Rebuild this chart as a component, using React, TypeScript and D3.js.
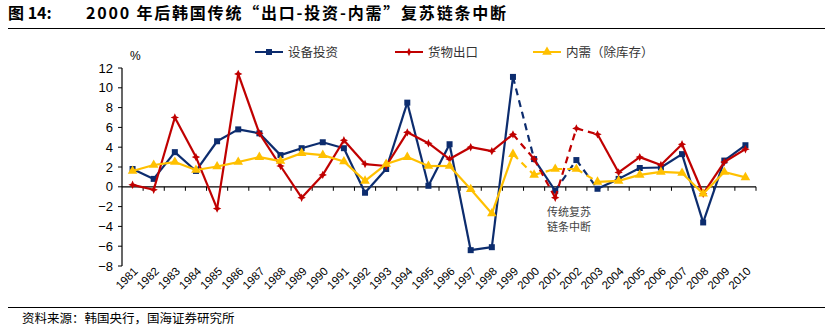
import React from "react";
import * as d3 from "d3";

const years = d3.range(1981, 2011).map(String);
const equipInvest = [1.8, 0.8, 3.5, 1.6, 4.6, 5.8, 5.4, 3.2, 3.9, 4.5, 3.9, -0.6, 1.8, 8.5, 0.1, 4.3, -6.4, -6.1, 11.1, 2.8, -0.4, 2.7, -0.2, 0.8, 1.9, 1.95, 3.3, -3.6, 2.65, 4.2];
const goodsExport = [0.2, -0.3, 7.0, 3.0, -2.2, 11.4, 5.4, 2.1, -1.1, 1.2, 4.7, 2.3, 2.1, 5.5, 4.4, 2.8, 4.0, 3.6, 5.3, 2.8, -1.1, 5.9, 5.3, 1.45, 3.0, 2.2, 4.3, -0.7, 2.5, 3.8];
const domesticDemand = [1.6, 2.2, 2.5, 1.7, 2.05, 2.5, 3.0, 2.6, 3.4, 3.2, 2.55, 0.6, 2.3, 3.0, 2.1, 2.1, -0.25, -2.7, 3.3, 1.2, 1.8, 1.8, 0.5, 0.6, 1.2, 1.5, 1.4, -0.7, 1.5, 0.95];
const yTicks = [12, 10, 8, 6, 4, 2, 0, -2, -4, -6, -8];
const dashedEquip = ["1999", "2001", "2002"];
const dashedExport = ["1999", "2000", "2001", "2002"];
const dashedDemand = ["1999", "2000", "2001", "2002"];

const seriesList = [
  { name: "设备投资", values: equipInvest, color: "#0C2C6E", marker: "square", dashed: dashedEquip },
  { name: "货物出口", values: goodsExport, color: "#C00000", marker: "star", dashed: dashedExport },
  { name: "内需（除库存）", values: domesticDemand, color: "#FFC000", marker: "triangle", dashed: dashedDemand },
];

const W = 825, H = 328;
const left = 122, right = 756, top = 68, bottom = 266;

function starPath(ro: number, ri: number) {
  const pts: string[] = [];
  for (let k = 0; k < 8; k++) {
    const a = (Math.PI / 4) * k - Math.PI / 2;
    const r = k % 2 === 0 ? ro : ri;
    pts.push(`${(r * Math.cos(a)).toFixed(2)},${(r * Math.sin(a)).toFixed(2)}`);
  }
  return "M" + pts.join("L") + "Z";
}

export default function App() {
  const x = d3.scaleBand().domain(years).range([left, right]);
  const y = d3.scaleLinear().domain([-8, 12]).range([bottom, top]);
  const cx = (yr: string) => (x(yr) as number) + x.bandwidth() / 2;
  const line = d3.line<[number, number]>();

  const sym = (m: string) => {
    if (m === "square") return d3.symbol(d3.symbolSquare, 36)() as string;
    if (m === "triangle") return d3.symbol(d3.symbolTriangle, 40)() as string;
    return starPath(4.2, 1.9);
  };

  const font = "'Liberation Sans', Arial, sans-serif";
  const cjk = "'Noto Sans CJK SC', sans-serif";

  return (
    <svg width={W} height={H} style={{ position: "absolute", left: 0, top: 0, background: "#fff" }}>
      {/* Title */}
      <text x={8} y={19} fontFamily={cjk} fontWeight="bold" fontSize={16} fill="#000">图 14:</text>
      <text x={86} y={19} fontFamily={cjk} fontWeight="bold" fontSize={16} letterSpacing={1.8} fill="#000">
        2000 年后韩国传统“出口-投资-内需”复苏链条中断
      </text>
      <line x1={8} x2={825} y1={28.5} y2={28.5} stroke="#000" strokeWidth={1.2} />

      {/* Legend */}
      {seriesList.map((s, i) => {
        const lx = [255, 395, 533][i];
        return (
          <g key={s.name}>
            <line x1={lx} x2={lx + 28} y1={52} y2={52} stroke={s.color} strokeWidth={2} />
            <path d={sym(s.marker)} transform={`translate(${lx + 14},52)`} fill={s.color} />
            <text x={lx + 33} y={56.5} fontFamily={cjk} fontSize={12.5} fill="#333">{s.name}</text>
          </g>
        );
      })}

      {/* Y axis */}
      <line x1={left} x2={left} y1={top} y2={bottom} stroke="#000" strokeWidth={1.2} />
      {yTicks.map((t) => (
        <g key={t}>
          <line x1={left - 4} x2={left} y1={y(t)} y2={y(t)} stroke="#000" />
          <text x={left - 9} y={y(t) + 4.5} textAnchor="end" fontFamily={font} fontSize={13} fill="#000">
            {t < 0 ? `\u2212${-t}` : t}
          </text>
        </g>
      ))}
      <text x={130} y={60} fontFamily={font} fontSize={12} fill="#000">%</text>

      {/* X axis at 0 */}
      <line x1={left} x2={right} y1={y(0)} y2={y(0)} stroke="#000" strokeWidth={1.2} />
      {years.map((yr) => (
        <line key={yr} x1={(x(yr) as number) + x.bandwidth()} x2={(x(yr) as number) + x.bandwidth()} y1={y(0)} y2={y(0) + 4} stroke="#000" />
      ))}
      {years.map((yr) => (
        <text key={yr} transform={`translate(${cx(yr) + 6},${272}) rotate(-45)`} textAnchor="end" fontFamily={font} fontSize={11.5} fill="#000">
          {yr}
        </text>
      ))}

      {/* Series */}
      {seriesList.map((s) => (
        <g key={s.name}>
          {s.values.slice(0, -1).map((v, i) => {
            const p: [number, number][] = [
              [cx(years[i]), y(v)],
              [cx(years[i + 1]), y(s.values[i + 1])],
            ];
            const dashed = s.dashed.includes(years[i]);
            return (
              <path key={i} d={line(p) as string} fill="none" stroke={s.color} strokeWidth={2.2}
                strokeDasharray={dashed ? "7,5" : undefined} />
            );
          })}
          {s.values.map((v, i) => (
            <path key={i} d={sym(s.marker)} transform={`translate(${cx(years[i])},${y(v)})`} fill={s.color} />
          ))}
        </g>
      ))}

      {/* Annotation */}
      <text x={547} y={216} fontFamily={cjk} fontSize={11} fill="#444">传统复苏</text>
      <text x={547} y={231} fontFamily={cjk} fontSize={11} fill="#444">链条中断</text>

      {/* Footer */}
      <line x1={8} x2={825} y1={307.5} y2={307.5} stroke="#000" strokeWidth={1.2} />
      <text x={22} y={323} fontFamily={cjk} fontSize={12.5} fill="#000">资料来源：韩国央行，国海证券研究所</text>
    </svg>
  );
}
